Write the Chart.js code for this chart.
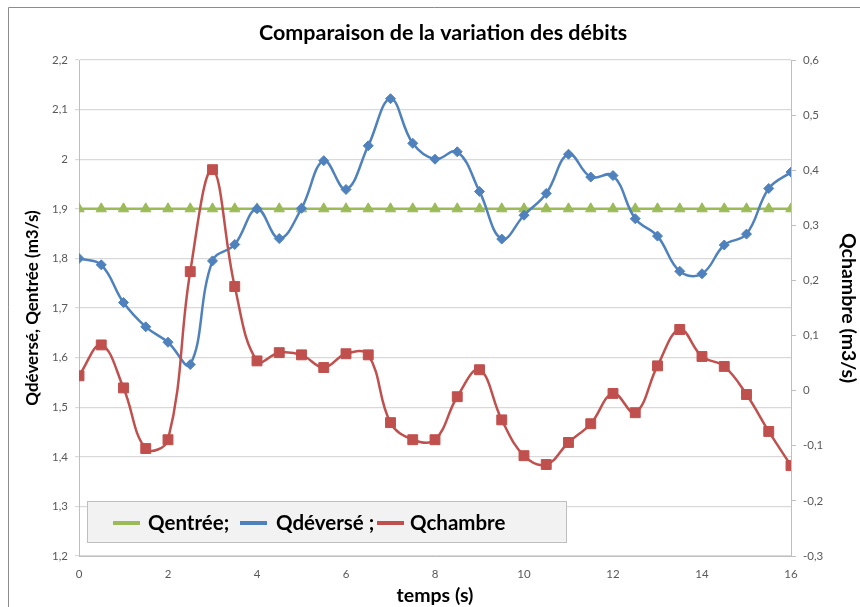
<!DOCTYPE html>
<html lang="fr">
<head>
<meta charset="utf-8">
<title>Comparaison de la variation des débits</title>
<script src="https://cdn.jsdelivr.net/npm/chart.js@4.4.1/dist/chart.umd.min.js"></script>
<style>
  html, body { margin: 0; padding: 0; background: #fff; }
  #wrap { width: 860px; height: 607px; position: relative; }
</style>
</head>
<body>
<div id="wrap"><canvas id="debitChart" width="860" height="607"></canvas></div>
<script>
// temps (s)
const temps = [0, 0.5, 1, 1.5, 2, 2.5, 3, 3.5, 4, 4.5, 5, 5.5, 6, 6.5, 7, 7.5, 8,
  8.5, 9, 9.5, 10, 10.5, 11, 11.5, 12, 12.5, 13, 13.5, 14, 14.5, 15, 15.5, 16];

// débit d'entrée (m3/s) - constant
const qEntree = [1.9, 1.9, 1.9, 1.9, 1.9, 1.9, 1.9, 1.9, 1.9, 1.9, 1.9, 1.9, 1.9,
  1.9, 1.9, 1.9, 1.9, 1.9, 1.9, 1.9, 1.9, 1.9, 1.9, 1.9, 1.9, 1.9, 1.9, 1.9, 1.9,
  1.9, 1.9, 1.9, 1.9];

// débit déversé (m3/s)
const qDeverse = [1.800, 1.787, 1.711, 1.662, 1.631, 1.586, 1.795, 1.828, 1.900,
  1.840, 1.901, 1.997, 1.939, 2.027, 2.122, 2.032, 2.000, 2.015, 1.935, 1.839,
  1.887, 1.931, 2.010, 1.964, 1.967, 1.880, 1.845, 1.774, 1.769, 1.827, 1.849,
  1.941, 1.974];

// débit chambre (m3/s) - axe de droite
const qChambre = [0.027, 0.083, 0.005, -0.105, -0.089, 0.216, 0.401, 0.189, 0.054,
  0.069, 0.065, 0.042, 0.067, 0.065, -0.058, -0.089, -0.089, -0.011, 0.038,
  -0.053, -0.118, -0.134, -0.094, -0.060, -0.005, -0.040, 0.045, 0.111, 0.062,
  0.044, -0.007, -0.074, -0.136];

const titre = "Comparaison de la variation des débits";
const legendLabels = ["Qentrée;", "Qdéversé ;", "Qchambre"];
const xTicks = [0, 2, 4, 6, 8, 10, 12, 14, 16];

const VERT = "#9bbb59";
const BLEU = "#4f81bd";
const ROUGE = "#c0504d";
const POLICE = "Lato, 'Open Sans', sans-serif";

// virgule décimale
const fmt = (v) => String(Math.round(v * 10) / 10).replace(".", ",");
const points = (ys) => temps.map((t, i) => ({ x: t, y: ys[i] }));

// cadre gris + titre (centré sur la zone de tracé, pas sur le canvas)
const cadre = {
  id: "cadre",
  beforeDraw(chart) {
    const c = chart.ctx;
    c.save();
    c.strokeStyle = "#8c8c8c";
    c.lineWidth = 1;
    c.beginPath();
    c.moveTo(8.5, 607);
    c.lineTo(8.5, 7.5);
    c.lineTo(860, 7.5);
    c.stroke();

    c.fillStyle = "#000";
    c.font = "bold 21.5px " + POLICE;
    c.textAlign = "center";
    c.textBaseline = "middle";
    c.fillText(titre, 443, 33);
    c.restore();
  }
};

// légende dans un encadré en bas du graphique
const legendeBoite = {
  id: "legendeBoite",
  afterDatasetsDraw(chart) {
    const c = chart.ctx;
    const x0 = 87, y0 = 501, w = 480, h = 42;
    c.save();
    c.fillStyle = "#f2f2f2";
    c.fillRect(x0, y0, w, h);
    c.strokeStyle = "#bfbfbf";
    c.lineWidth = 1;
    c.strokeRect(x0 + 0.5, y0 + 0.5, w - 1, h - 1);

    const ys = y0 + h / 2 + 1;
    const swatchX = [113, 240, 377];
    const texteX = [148, 276, 410];
    c.font = "bold 20.5px " + POLICE;
    c.textBaseline = "middle";
    chart.data.datasets.forEach((ds, i) => {
      c.strokeStyle = ds.borderColor;
      c.lineWidth = 4;
      c.beginPath();
      c.moveTo(swatchX[i], ys);
      c.lineTo(swatchX[i] + 27, ys);
      c.stroke();
      c.fillStyle = "#000";
      c.fillText(legendLabels[i], texteX[i], ys);
    });
    c.restore();
  }
};

const ctx = document.getElementById("debitChart").getContext("2d");

new Chart(ctx, {
  type: "line",
  data: {
    datasets: [
      {
        label: "Qentrée",
        data: points(qEntree),
        yAxisID: "y",
        borderColor: VERT,
        backgroundColor: VERT,
        borderWidth: 2.5,
        pointStyle: "triangle",
        pointRadius: 6,
        pointBorderWidth: 1,
        tension: 0,
        order: 3
      },
      {
        label: "Qdéversé",
        data: points(qDeverse),
        yAxisID: "y",
        borderColor: BLEU,
        backgroundColor: BLEU,
        borderWidth: 2.5,
        pointStyle: "rectRot",
        pointRadius: 5,
        pointBorderWidth: 1,
        tension: 0.4,
        order: 2
      },
      {
        label: "Qchambre",
        data: points(qChambre),
        yAxisID: "y2",
        borderColor: ROUGE,
        backgroundColor: ROUGE,
        borderWidth: 2.5,
        pointStyle: "rect",
        pointRadius: 7,
        pointBorderWidth: 1,
        tension: 0.4,
        order: 1
      }
    ]
  },
  options: {
    responsive: false,
    animation: false,
    layout: { padding: { top: 60, left: 0, right: 0, bottom: 0 } },
    plugins: {
      legend: { display: false },
      tooltip: { enabled: false },
      title: { display: false }
    },
    scales: {
      x: {
        type: "linear",
        min: 0,
        max: 16,
        afterBuildTicks: (axis) => { axis.ticks = xTicks.map(v => ({ value: v })); },
        afterFit: (axis) => { axis.height = 51; },
        grid: { display: true, drawOnChartArea: false, drawTicks: false, color: "#bfbfbf" },
        border: { color: "#bfbfbf" },
        ticks: { color: "#595959", padding: 11, font: { family: POLICE, size: 11.5 }, maxRotation: 0 },
        title: {
          display: true,
          text: "temps (s)",
          color: "#000",
          font: { family: POLICE, size: 19.5, weight: "bold" },
          padding: { top: 0, bottom: 0 }
        }
      },
      y: {
        position: "left",
        min: 1.2,
        max: 2.2,
        afterFit: (axis) => { axis.width = 79; },
        grid: { color: "#d9d9d9", tickLength: 4, lineWidth: 1.2 },
        border: { color: "#bfbfbf" },
        ticks: {
          stepSize: 0.1,
          color: "#595959",
          padding: 7,
          font: { family: POLICE, size: 11.5 },
          callback: fmt
        },
        title: {
          display: true,
          text: "Qdéversé, Qentrée (m3/s)",
          color: "#000",
          font: { family: POLICE, size: 17, weight: "bold" },
          padding: { top: 22, bottom: 0 }
        }
      },
      y2: {
        position: "right",
        min: -0.3,
        max: 0.6,
        afterFit: (axis) => { axis.width = 69; },
        grid: { drawOnChartArea: false, color: "#bfbfbf", tickLength: 5 },
        border: { color: "#bfbfbf" },
        ticks: {
          stepSize: 0.1,
          color: "#595959",
          padding: 7,
          font: { family: POLICE, size: 11.5 },
          callback: fmt
        },
        title: {
          display: true,
          text: "Qchambre (m3/s)",
          color: "#000",
          font: { family: POLICE, size: 19.5, weight: "bold" },
          padding: { top: 0, bottom: 7 }
        }
      }
    }
  },
  plugins: [cadre, legendeBoite]
});
</script>
</body>
</html>
